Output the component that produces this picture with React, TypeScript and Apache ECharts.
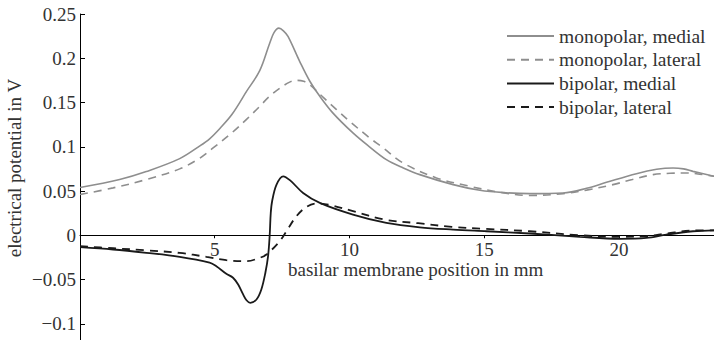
import React, { useEffect, useRef } from "react";
import * as echarts from "echarts";

const seriesNames = [
  "monopolar, medial",
  "monopolar, lateral",
  "bipolar, medial",
  "bipolar, lateral",
];

const monoMedial: [number, number][] = [
  [0, 0.054], [1.47, 0.063], [2.46, 0.072], [3.7, 0.0866], [4.45, 0.101], [4.81, 0.109],
  [5.2, 0.121], [5.65, 0.137], [6.18, 0.1625], [6.67, 0.186], [7.04, 0.217], [7.2, 0.229], [7.38, 0.234],
  [7.55, 0.231], [7.72, 0.2246], [8.16, 0.196], [8.53, 0.174], [8.9, 0.157], [9.39, 0.138],
  [10.13, 0.1156], [10.7, 0.101], [11.37, 0.0854], [12.0, 0.076], [12.61, 0.0685],
  [13.85, 0.0572], [14.84, 0.0508], [15.8, 0.048], [16.69, 0.047], [17.93, 0.0478],
  [18.8, 0.053], [19.54, 0.0598], [20.65, 0.0696], [21.4, 0.0745], [22.01, 0.076],
  [22.4, 0.075], [22.75, 0.0722], [23.53, 0.0666],
];

const monoLateral: [number, number][] = [
  [0, 0.046], [1.23, 0.0535], [2.46, 0.063], [3.7, 0.075], [4.44, 0.087], [4.94, 0.0986],
  [5.67, 0.1166], [6.18, 0.131], [6.67, 0.1456], [7.0, 0.156], [7.41, 0.166], [7.78, 0.173],
  [8.03, 0.175], [8.3, 0.174], [8.53, 0.17], [9.02, 0.156], [9.52, 0.142], [10.01, 0.1287],
  [10.75, 0.11], [11.2, 0.1], [11.99, 0.0817], [13.23, 0.0648], [14.47, 0.0553],
  [15.5, 0.049], [16.69, 0.045], [17.93, 0.047], [18.8, 0.051], [19.78, 0.0572],
  [20.5, 0.063], [21.27, 0.0685], [21.9, 0.07], [22.51, 0.0704], [23.0, 0.069], [23.53, 0.0666],
];

const biMedial: [number, number][] = [
  [0, -0.0135], [1.23, -0.0161], [2.46, -0.0199], [3.7, -0.0244], [4.81, -0.031],
  [5.06, -0.035], [5.43, -0.0435], [5.68, -0.048], [5.87, -0.0557], [6.05, -0.0666],
  [6.18, -0.0734], [6.32, -0.0763], [6.55, -0.0726], [6.73, -0.0613], [6.88, -0.0424],
  [6.98, -0.0237], [7.04, 0], [7.08, 0.0253], [7.13, 0.0384], [7.29, 0.057], [7.54, 0.0666],
  [7.8, 0.062], [8.28, 0.0478], [8.9, 0.0366], [10.13, 0.0234], [11.37, 0.014],
  [12.61, 0.009], [13.85, 0.0064], [15.09, 0.0045], [16.69, 0.002], [18.55, -0.0018],
  [20.03, -0.004], [21.02, -0.003], [21.77, 0.0008], [22.75, 0.0045], [23.53, 0.0056],
];

const biLateral: [number, number][] = [
  [0, -0.0124], [1.23, -0.0147], [2.46, -0.017], [3.7, -0.02], [4.69, -0.0244],
  [5.43, -0.0282], [6.18, -0.0293], [6.67, -0.0255], [6.92, -0.0218], [7.41, -0.0068],
  [7.66, 0.0045], [8.03, 0.0214], [8.4, 0.032], [8.78, 0.0358], [9.3, 0.034],
  [10.1, 0.0275], [11.3, 0.0177], [12.55, 0.0136], [13.8, 0.0095], [15.0, 0.0073],
  [16.69, 0.0045], [18.55, 0], [20.03, -0.0018], [21.02, -0.001], [21.77, 0.002],
  [22.75, 0.0053], [23.53, 0.0056],
];

const xTickValues = [5, 10, 15, 20];
const xAxisTitle = "basilar membrane position in mm";
const yAxisTitle = "electrical potential in V";

const FONT = "'Liberation Serif', 'Times New Roman', serif";
const GRAY = "#8e8e8e";
const BLACK = "#1a1a1a";

const Y_MIN = -0.15;
const Y_MAX = 0.25;
const GRID_TOP = 14;
const CHART_H = 368;

export default function App() {
  const ref = useRef<HTMLDivElement>(null);
  useEffect(() => {
    if (!ref.current) return;
    const chart = echarts.init(ref.current, undefined, { renderer: "svg" });
    const gridH = CHART_H - GRID_TOP;
    // distance from grid bottom up to the y = 0 line
    const zeroOffset = (gridH * (0 - Y_MIN)) / (Y_MAX - Y_MIN);
    const mk = (name: string, data: [number, number][], color: string, dashed: boolean, width: number) => ({
      name,
      type: "line",
      data,
      symbol: "none",
      smooth: 0.35,
      lineStyle: { color, width, type: dashed ? [8, 6] : "solid" },
      itemStyle: { color },
    });
    chart.setOption({
      animation: false,
      grid: { left: 80, right: 0, top: GRID_TOP, bottom: 0, outerBoundsMode: "none", containLabel: false },
      legend: {
        orient: "vertical",
        left: 506,
        top: 26,
        padding: 0,
        itemWidth: 47,
        itemHeight: 14,
        itemGap: 3.7,
        itemStyle: { opacity: 0 },
        textStyle: { fontFamily: FONT, fontSize: 19.5, color: "#333", lineHeight: 19 },
        data: seriesNames,
      },
      xAxis: {
        type: "value",
        position: "bottom",
        offset: -zeroOffset,
        min: 0,
        max: 23.53,
        interval: 5,
        axisLine: { onZero: false, lineStyle: { color: "#000", width: 1 } },
        axisTick: { show: true, inside: false, length: 3, lineStyle: { color: "#000" } },
        axisLabel: {
          fontFamily: FONT,
          fontSize: 19,
          color: "#333",
          margin: 5,
          formatter: (v: number) => (xTickValues.includes(Math.round(v * 100) / 100) ? String(v) : ""),
        },
        splitLine: { show: false },
      },
      yAxis: {
        type: "value",
        min: Y_MIN,
        max: Y_MAX,
        interval: 0.05,
        axisLine: { show: true, onZero: false, lineStyle: { color: "#000", width: 1 } },
        axisTick: { show: true, inside: true, length: 5, lineStyle: { color: "#000" } },
        axisLabel: {
          fontFamily: FONT,
          fontSize: 19,
          color: "#333",
          margin: 4,
          formatter: (v: number) => {
            const r = parseFloat(v.toFixed(2));
            if (r === 0) return "0";
            if (r < -0.12) return "";
            return (r < 0 ? "\u2212" : "") + String(Math.abs(r));
          },
        },
        splitLine: { show: false },
      },
      graphic: [
        {
          type: "text",
          left: 288,
          top: 260,
          style: { text: xAxisTitle, fontFamily: FONT, fontSize: 19, fill: "#333" },
        },
        {
          type: "text",
          x: 14,
          y: 168,
          rotation: Math.PI / 2,
          style: {
            text: yAxisTitle,
            fontFamily: FONT,
            fontSize: 19,
            fill: "#333",
            align: "center",
            verticalAlign: "middle",
          },
        },
      ],
      series: [
        mk(seriesNames[0], monoMedial, GRAY, false, 1.6),
        mk(seriesNames[1], monoLateral, GRAY, true, 1.6),
        mk(seriesNames[2], biMedial, BLACK, false, 1.8),
        mk(seriesNames[3], biLateral, BLACK, true, 1.8),
      ],
    });
    return () => chart.dispose();
  }, []);
  return (
    <div style={{ position: "fixed", left: 0, top: 0, width: 714, height: 340, overflow: "hidden", background: "#fff" }}>
      <div ref={ref} style={{ width: 714, height: CHART_H }} />
    </div>
  );
}
